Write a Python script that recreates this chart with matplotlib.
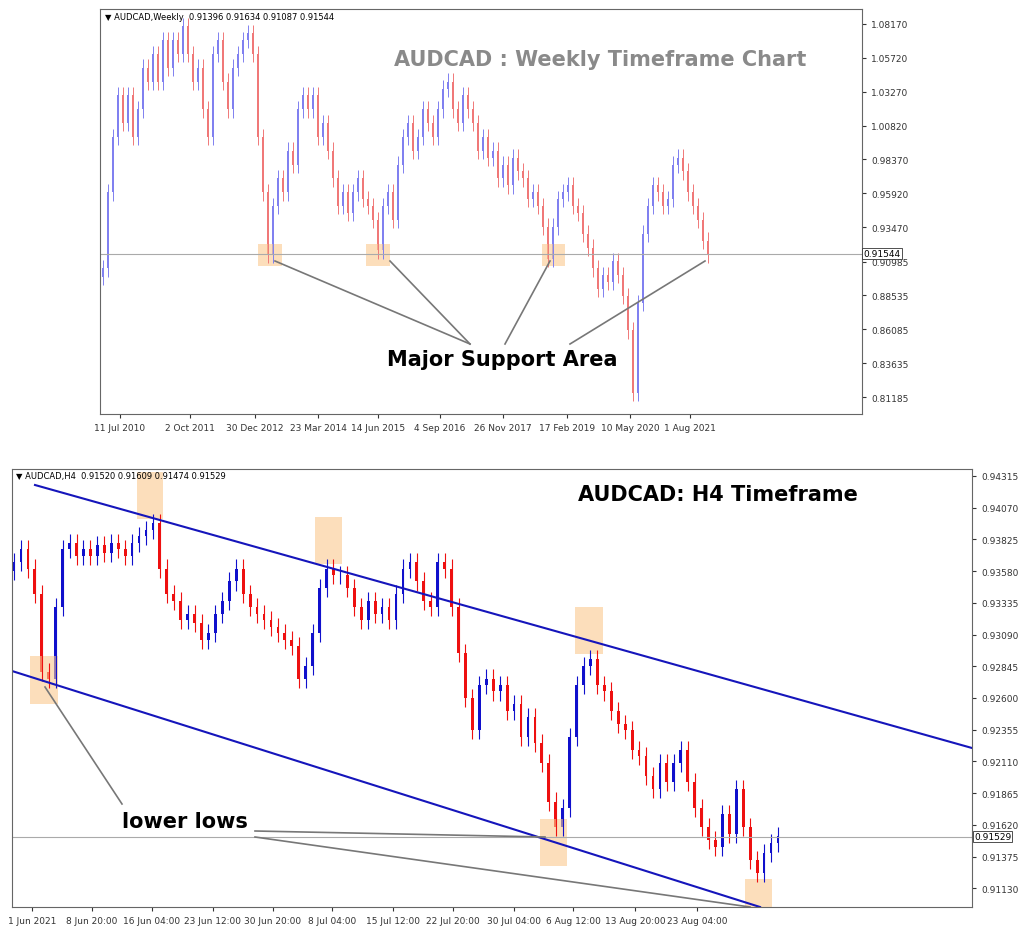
import matplotlib
matplotlib.use("Agg")
import matplotlib.pyplot as plt
from matplotlib.patches import Rectangle
import numpy as np

# ---- data ----
weekly_close = [0.905,0.96,1.00,1.03,1.01,1.03,1.00,1.02,1.05,1.04,1.06,1.04,1.07,1.05,1.07,1.06,1.08,1.06,1.04,1.05,
 1.02,1.00,1.06,1.07,1.04,1.02,1.05,1.06,1.07,1.075,1.06,1.00,0.96,0.915,0.95,0.97,0.96,0.99,0.98,1.02,
 1.03,1.02,1.03,1.00,1.01,0.99,0.97,0.95,0.96,0.945,0.96,0.97,0.955,0.95,0.94,0.918,0.95,0.96,0.94,0.98,
 1.00,1.01,0.99,1.00,1.02,1.01,1.00,1.02,1.035,1.04,1.02,1.01,1.03,1.02,1.01,0.99,1.00,0.985,0.99,0.97,
 0.98,0.965,0.985,0.975,0.97,0.955,0.96,0.95,0.935,0.912,0.935,0.955,0.96,0.965,0.95,0.945,0.93,0.92,0.905,0.89,
 0.90,0.895,0.91,0.90,0.885,0.86,0.815,0.88,0.93,0.95,0.965,0.96,0.95,0.955,0.98,0.985,0.975,0.96,0.95,0.94,
 0.925,0.915]
weekly_ticks = ["11 Jul 2010","2 Oct 2011","30 Dec 2012","23 Mar 2014","14 Jun 2015","4 Sep 2016",
                "26 Nov 2017","17 Feb 2019","10 May 2020","1 Aug 2021"]
weekly_yticks = [0.81185,0.83635,0.86085,0.88535,0.90985,0.93470,0.95920,0.98370,1.00820,1.03270,1.05720,1.08170]

h4_close = [0.9365,0.9375,0.936,0.934,0.928,0.9275,0.933,0.9375,0.938,0.937,0.9375,0.937,0.9378,0.9372,0.938,
 0.9375,0.937,0.938,0.9385,0.939,0.9395,0.936,0.934,0.9335,0.932,0.9325,0.9318,0.9305,0.931,0.9325,0.9335,
 0.935,0.936,0.934,0.933,0.9325,0.932,0.9315,0.931,0.9305,0.930,0.9275,0.9285,0.931,0.9345,0.936,0.9355,
 0.9355,0.9345,0.933,0.932,0.9335,0.9325,0.933,0.932,0.934,0.936,0.9365,0.935,0.9335,0.933,0.9365,0.936,
 0.933,0.9295,0.926,0.9235,0.927,0.9275,0.9265,0.927,0.925,0.9255,0.923,0.9245,0.9225,0.921,0.918,0.916,
 0.9175,0.923,0.927,0.9285,0.929,0.927,0.9265,0.925,0.924,0.9235,0.922,0.9215,0.92,0.919,0.921,0.9195,
 0.921,0.922,0.9195,0.9175,0.916,0.915,0.9145,0.917,0.9155,0.919,0.916,0.9135,0.9125,0.914,0.9148,0.9153]
h4_ticks = ["1 Jun 2021","8 Jun 20:00","16 Jun 04:00","23 Jun 12:00","30 Jun 20:00","8 Jul 04:00",
            "15 Jul 12:00","22 Jul 20:00","30 Jul 04:00","6 Aug 12:00","13 Aug 20:00","23 Aug 04:00"]
h4_tick_px = [32,92,152,213,273,332,393,453,514,573,635,697]
h4_yticks = [0.91130,0.91375,0.91620,0.91865,0.92110,0.92355,0.92600,0.92845,0.93090,0.93335,0.93580,0.93825,0.94070,0.94315]

W, H = 1024, 928
fig = plt.figure(figsize=(W/100, H/100), dpi=100)

def mkax(l, r, t, b):
    return fig.add_axes([l/W, 1-b/H, (r-l)/W, (b-t)/H])

def candles(ax, closes, wick, up, dn, width, lw):
    for i, c in enumerate(closes):
        op = closes[i-1] if i > 0 else c - wick
        col = up if c >= op else dn
        hi, lo = max(op, c) + wick, min(op, c) - wick
        ax.vlines(i, lo, hi, color=col, lw=lw)
        ax.add_patch(Rectangle((i-width/2, min(op, c)), width, max(abs(c-op), 1e-5), color=col, lw=0))

def style(ax):
    for s in ax.spines.values():
        s.set_color("#666666"); s.set_linewidth(0.8)
    ax.yaxis.tick_right()
    ax.tick_params(labelsize=6.5, length=3, colors="#333333")

# ---- top weekly ----
tl, tr, tt, tb = 100, 862, 10, 415
ax1 = mkax(tl, tr, tt, tb)
sp1 = 5.0
x1lim = (-0.5, -0.5 + (tr-tl)/sp1)
y1lim = (0.7996, 1.0925)
ax1.set_xlim(*x1lim); ax1.set_ylim(*y1lim)
candles(ax1, weekly_close, 0.006, "#8080f0", "#f07878", 0.4, 0.7)
ax1.axhline(0.91544, color="#aaaaaa", lw=0.8)
ax1.set_yticks(weekly_yticks); ax1.set_yticklabels([f"{v:.5f}" for v in weekly_yticks])
wpx = [120,190,255,318,378,440,503,567,630,690]
ax1.set_xticks([(p-tl)/sp1 - 0.5 for p in wpx]); ax1.set_xticklabels(weekly_ticks)
style(ax1)

def p1(px, py):
    return (x1lim[0] + (px-tl)/(tr-tl)*(x1lim[1]-x1lim[0]),
            y1lim[1] - (py-tt)/(tb-tt)*(y1lim[1]-y1lim[0]))

for (a, b) in [(258, 282), (366, 390), (542, 565)]:
    x0, y0 = p1(a, 267); x1_, y1_ = p1(b, 245)
    ax1.add_patch(Rectangle((x0, y0), x1_-x0, y1_-y0, color="#fbc98e", alpha=0.6, lw=0))
for (a, b, c, d) in [(275,262,470,345),(390,262,470,345),(550,262,505,345),(705,262,570,345)]:
    xa, ya = p1(a, b); xb, yb = p1(c, d)
    ax1.plot([xa, xb], [ya, yb], color="#777777", lw=1.2)
ax1.text(*p1(502, 360), "Major Support Area", fontsize=15, fontweight="bold", ha="center", va="center")
ax1.text(*p1(600, 60), "AUDCAD : Weekly Timeframe Chart", fontsize=15, fontweight="bold",
         color="#8a8a8a", ha="center", va="center")
ax1.text(*p1(105, 17), "▼ AUDCAD,Weekly  0.91396 0.91634 0.91087 0.91544", fontsize=6, va="center")
ax1.text(1.002, (0.91544-y1lim[0])/(y1lim[1]-y1lim[0]), "0.91544", transform=ax1.transAxes,
         fontsize=6.5, va="center", bbox=dict(fc="white", ec="#333333", pad=0.8, lw=0.6))

# ---- bottom H4 ----
bl, br, bt, bb = 12, 972, 470, 908
ax2 = mkax(bl, br, bt, bb)
n = len(h4_close)
sp2 = (778-14)/(n-1)
x2lim = (-(14-bl)/sp2, -(14-bl)/sp2 + (br-bl)/sp2)
y2lim = (0.90985, 0.94369)
ax2.set_xlim(*x2lim); ax2.set_ylim(*y2lim)
candles(ax2, h4_close, 0.0007, "#1010cc", "#ee1010", 0.4, 0.8)
ax2.axhline(0.91529, color="#aaaaaa", lw=0.8)
ax2.set_yticks(h4_yticks); ax2.set_yticklabels([f"{v:.5f}" for v in h4_yticks])
ax2.set_xticks([x2lim[0] + (p-bl)/sp2 for p in h4_tick_px]); ax2.set_xticklabels(h4_ticks)
style(ax2)

def p2(px, py):
    return (x2lim[0] + (px-bl)/(br-bl)*(x2lim[1]-x2lim[0]),
            y2lim[1] - (py-bt)/(bb-bt)*(y2lim[1]-y2lim[0]))

for (a, b, c, d) in [(35,486,972,749),(12,672,760,908)]:
    xa, ya = p2(a, b); xb, yb = p2(c, d)
    ax2.plot([xa, xb], [ya, yb], color="#1515bb", lw=1.5)
for (a, b, c, d) in [(30,58,657,705),(137,163,473,520),(315,342,518,565),(540,567,820,867),(575,603,608,655),(745,772,880,910)]:
    x0, y0 = p2(a, d); x1_, y1_ = p2(b, c)
    ax2.add_patch(Rectangle((x0, y0), x1_-x0, y1_-y0, color="#fbc98e", alpha=0.6, lw=0))
for (a, b, c, d) in [(255,832,545,838),(255,838,750,908),(122,805,45,688)]:
    xa, ya = p2(a, b); xb, yb = p2(c, d)
    ax2.plot([xa, xb], [ya, yb], color="#777777", lw=1.2)
ax2.text(*p2(185, 822), "lower lows", fontsize=15, fontweight="bold", ha="center", va="center")
ax2.text(*p2(718, 495), "AUDCAD: H4 Timeframe", fontsize=15, fontweight="bold", ha="center", va="center")
ax2.text(*p2(16, 477), "▼ AUDCAD,H4  0.91520 0.91609 0.91474 0.91529", fontsize=6, va="center")
ax2.text(1.002, (0.91529-y2lim[0])/(y2lim[1]-y2lim[0]), "0.91529", transform=ax2.transAxes,
         fontsize=6.5, va="center", bbox=dict(fc="white", ec="#333333", pad=0.8, lw=0.6))

fig.savefig("out.png", dpi=100)
